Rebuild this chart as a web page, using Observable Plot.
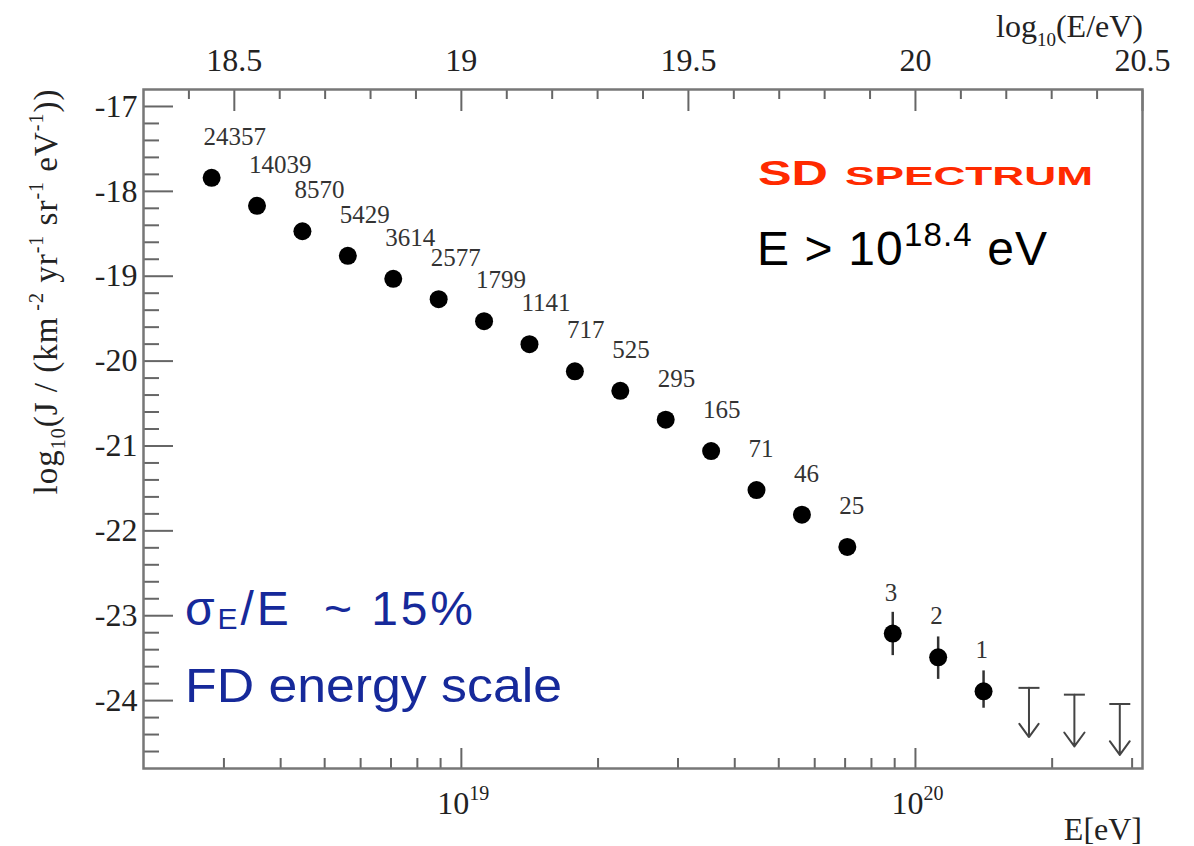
<!DOCTYPE html>
<html><head><meta charset="utf-8">
<script src="https://cdn.jsdelivr.net/npm/d3@7"></script>
<script src="https://cdn.jsdelivr.net/npm/@observablehq/plot@0.6"></script>
<style>body{margin:0;background:#fff}</style>
</head><body><div id="chart"></div>
<script>
// ---- data ----
const logE = [18.45, 18.55, 18.65, 18.75, 18.85, 18.95, 19.05, 19.15, 19.25, 19.35, 19.45, 19.55, 19.65, 19.75, 19.85, 19.95, 20.05, 20.15];
const logJ = [-17.84, -18.17, -18.47, -18.76, -19.03, -19.27, -19.53, -19.80, -20.12, -20.35, -20.69, -21.06, -21.52, -21.81, -22.19, -23.21, -23.49, -23.89];
const events = [24357, 14039, 8570, 5429, 3614, 2577, 1799, 1141, 717, 525, 295, 165, 71, 46, 25, 3, 2, 1];
const errLow  = [null, null, null, null, null, null, null, null, null, null, null, null, null, null, null, -23.47, -23.75, -24.09];
const errHigh = [null, null, null, null, null, null, null, null, null, null, null, null, null, null, null, -22.96, -23.25, -23.65];
const limitE   = [20.25, 20.35, 20.45];
const limitTop = [-23.85, -23.93, -24.04];
const limitTip = [-24.43, -24.54, -24.64];

const topMajor = [18.5, 19, 19.5, 20, 20.5];
const topMinor = [18.4, 18.6, 18.7, 18.8, 18.9, 19.1, 19.2, 19.3, 19.4, 19.6, 19.7, 19.8, 19.9, 20.1, 20.2, 20.3, 20.4];
const yMajor = [-24, -23, -22, -21, -20, -19, -18, -17];
const yMinor = [-24.6, -24.4, -24.2, -23.8, -23.6, -23.4, -23.2, -22.8, -22.6, -22.4, -22.2, -21.8, -21.6, -21.4, -21.2,
                -20.8, -20.6, -20.4, -20.2, -19.8, -19.6, -19.4, -19.2, -18.8, -18.6, -18.4, -18.2, -17.8, -17.6, -17.4, -17.2];
const bottomMajorExp = [19, 20];
const bottomMinorE = [3e18, 4e18, 5e18, 6e18, 7e18, 8e18, 9e18, 2e19, 3e19, 4e19, 5e19, 6e19, 7e19, 8e19, 9e19, 2e20, 3e20];

// ---- build ----
const serif = "Liberation Serif, Times New Roman, serif";
const sans = "Liberation Sans, Helvetica, Arial, sans-serif";
const points = logE.map((x, i) => ({x, y: logJ[i], n: events[i], lo: errLow[i], hi: errHigh[i]}));
const limits = limitE.map((x, i) => ({x, top: limitTop[i], tip: limitTip[i]}));
const capSymbol = {draw(ctx, size) { const r = Math.sqrt(size / Math.PI); ctx.moveTo(-r, 0); ctx.lineTo(r, 0); }};
const tickColor = "#666";

const plot = Plot.plot({
  width: 1194, height: 846,
  marginLeft: 143, marginRight: 52, marginTop: 89, marginBottom: 78,
  x: {domain: [18.3, 20.5]},
  y: {domain: [-24.8, -16.8]},
  style: {background: "white", fontFamily: serif, color: "#222"},
  marks: [
    // left axis (ticks inward)
    Plot.axisY({ticks: yMajor, tickSize: -30, tickFormat: () => "", stroke: tickColor, strokeWidth: 2, label: null}),
    Plot.axisY({ticks: yMinor, tickSize: -16, tickFormat: () => "", stroke: tickColor, strokeWidth: 2, label: null}),
    Plot.axisY({ticks: yMajor, tickSize: 0, tickPadding: 6, tickFormat: d => String(d), fontSize: 32, label: null}),
    // top axis log10(E/eV)
    Plot.axisX({anchor: "top", ticks: topMajor, tickSize: -21, tickFormat: () => "", stroke: tickColor, strokeWidth: 2, label: null}),
    Plot.axisX({anchor: "top", ticks: topMinor, tickSize: -9, tickFormat: () => "", stroke: tickColor, strokeWidth: 2, label: null}),
    Plot.axisX({anchor: "top", ticks: topMajor, tickSize: 0, tickPadding: 19, tickFormat: d => String(d), fontSize: 32, label: null}),
    // bottom axis E[eV]
    Plot.axisX({anchor: "bottom", ticks: bottomMajorExp, tickSize: -20, tickFormat: () => "", stroke: tickColor, strokeWidth: 2, label: null}),
    Plot.axisX({anchor: "bottom", ticks: bottomMinorE.map(e => Math.log10(e)), tickSize: -10, tickFormat: () => "", stroke: tickColor, strokeWidth: 2, label: null}),
    Plot.text(bottomMajorExp, {x: d => d, text: () => "10", frameAnchor: "bottom", textAnchor: "end", lineAnchor: "bottom", dx: 8, dy: 45, fontSize: 32, fill: "#222", fontFamily: serif}),
    Plot.text(bottomMajorExp, {x: d => d, text: d => String(d), frameAnchor: "bottom", textAnchor: "start", lineAnchor: "bottom", dx: 8, dy: 31, fontSize: 20, fill: "#222", fontFamily: serif}),
    Plot.frame({stroke: "#777", strokeWidth: 2.5}),
    // data
    Plot.ruleX(points.filter(d => d.lo != null), {x: "x", y1: "lo", y2: "hi", stroke: "#333", strokeWidth: 2.5}),
    Plot.dot(points, {x: "x", y: "y", r: 9, fill: "black"}),
    Plot.text(points, {x: "x", y: "y", text: d => String(d.n), textAnchor: "start", lineAnchor: "bottom", dx: -8, dy: -33, fontSize: 25, fill: "#333", fontFamily: serif}),
    Plot.arrow(limits, {x1: "x", x2: "x", y1: "top", y2: "tip", stroke: "#444", strokeWidth: 2, headLength: 19, headAngle: 72}),
    Plot.dot(limits, {x: "x", y: "top", r: 10.5, symbol: capSymbol, stroke: "#444", strokeWidth: 2, fill: "none"})
  ]
});
document.getElementById("chart").append(plot);

// ---- titles and annotations ----
const svg = d3.select(plot);
// y axis title
const yt = svg.append("text").attr("transform", "translate(57,292) rotate(-90)").attr("text-anchor", "middle")
  .attr("font-family", serif).attr("font-size", 33).attr("fill", "#222")
  .attr("textLength", 405).attr("lengthAdjust", "spacing");
yt.append("tspan").text("log");
yt.append("tspan").attr("font-size", 20).attr("dy", 8).text("10");
yt.append("tspan").attr("dy", -8).text("(J / (km");
yt.append("tspan").attr("font-size", 20).attr("dy", -14).text(" -2");
yt.append("tspan").attr("dy", 14).text(" yr");
yt.append("tspan").attr("font-size", 20).attr("dy", -14).text("-1");
yt.append("tspan").attr("dy", 14).text(" sr");
yt.append("tspan").attr("font-size", 20).attr("dy", -14).text("-1");
yt.append("tspan").attr("dy", 14).text(" eV");
yt.append("tspan").attr("font-size", 20).attr("dy", -14).text("-1");
yt.append("tspan").attr("dy", 14).text("))");
// top axis title
const tt = svg.append("text").attr("x", 1143).attr("y", 37).attr("text-anchor", "end")
  .attr("font-family", serif).attr("font-size", 32).attr("fill", "#222");
tt.append("tspan").text("log");
tt.append("tspan").attr("font-size", 19).attr("dy", 9).text("10");
tt.append("tspan").attr("dy", -9).text("(E/eV)");
// bottom axis title
svg.append("text").attr("x", 1142).attr("y", 840).attr("text-anchor", "end")
  .attr("font-family", serif).attr("font-size", 32).attr("fill", "#222").text("E[eV]");
// SD spectrum
svg.append("text").attr("x", 758).attr("y", 185).attr("text-anchor", "start").attr("font-family", sans).attr("font-weight", "bold")
  .attr("font-size", 35).attr("fill", "#ff2a00").attr("textLength", 70).attr("lengthAdjust", "spacingAndGlyphs").text("SD");
svg.append("text").attr("x", 845).attr("y", 185).attr("text-anchor", "start").attr("font-family", sans).attr("font-weight", "bold")
  .attr("font-size", 25).attr("fill", "#ff2a00").attr("textLength", 248).attr("lengthAdjust", "spacingAndGlyphs").text("SPECTRUM");
// E > 10^18.4 eV
const et = svg.append("text").attr("x", 757).attr("y", 265).attr("text-anchor", "start").attr("font-family", sans).attr("font-size", 48).attr("fill", "#000")
  .attr("textLength", 290).attr("lengthAdjust", "spacing");
et.append("tspan").text("E > 10");
et.append("tspan").attr("font-size", 33).attr("dy", -19).text("18.4");
et.append("tspan").attr("dy", 19).text(" eV");
// blue annotations
const blue = "#16299a";
const st = svg.append("text").attr("x", 185).attr("y", 625).attr("text-anchor", "start").attr("font-family", sans).attr("font-size", 48).attr("fill", blue)
  .attr("textLength", 288).attr("lengthAdjust", "spacing");
st.append("tspan").text("σ");
st.append("tspan").attr("font-size", 30).attr("dy", 4).text("E");
st.append("tspan").attr("dy", -4).text("/E\u00a0\u00a0~ 15%");
svg.append("text").attr("x", 185).attr("y", 702).attr("text-anchor", "start").attr("font-family", sans).attr("font-size", 48).attr("fill", blue)
  .attr("textLength", 377).attr("lengthAdjust", "spacingAndGlyphs").text("FD energy scale");
</script>
</body></html>
